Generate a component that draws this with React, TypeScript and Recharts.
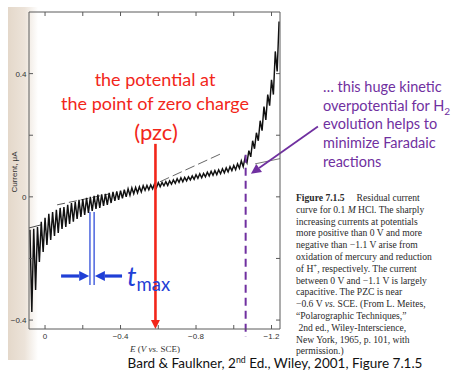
import React from 'react';
import { ComposedChart, Line, XAxis, YAxis, ReferenceLine } from 'recharts';

// residual current polarogram, 0.1 M HCl (µA vs V)
const potentials = [
  0.08, 0.07, 0.06, 0.05, 0.04, 0.03, 0.02, 0.01, 0, -0.01,
  -0.02, -0.03, -0.04, -0.05, -0.06, -0.07, -0.08, -0.09, -0.1, -0.11,
  -0.12, -0.13, -0.14, -0.15, -0.16, -0.17, -0.18, -0.19, -0.2, -0.21,
  -0.22, -0.23, -0.24, -0.25, -0.26, -0.27, -0.28, -0.29, -0.3, -0.31,
  -0.32, -0.33, -0.34, -0.35, -0.36, -0.37, -0.38, -0.39, -0.4, -0.41,
  -0.42, -0.43, -0.44, -0.45, -0.46, -0.47, -0.48, -0.49, -0.5, -0.51,
  -0.52, -0.53, -0.54, -0.55, -0.56, -0.57, -0.58, -0.59, -0.6, -0.61,
  -0.62, -0.63, -0.64, -0.65, -0.66, -0.67, -0.68, -0.69, -0.7, -0.71,
  -0.72, -0.73, -0.74, -0.75, -0.76, -0.77, -0.78, -0.79, -0.8, -0.81,
  -0.82, -0.83, -0.84, -0.85, -0.86, -0.87, -0.88, -0.89, -0.9, -0.91,
  -0.92, -0.93, -0.94, -0.95, -0.96, -0.97, -0.98, -0.99, -1.0, -1.01,
  -1.02, -1.03, -1.04, -1.05, -1.06, -1.07, -1.08, -1.09, -1.1, -1.11,
  -1.12, -1.13, -1.14, -1.15, -1.16, -1.17, -1.18, -1.19, -1.2, -1.21,
  -1.22, -1.23, -1.24,
];
const currents = [
  -0.107, -0.374, -0.104, -0.302, -0.098, -0.211, -0.081, -0.179, -0.068, -0.156,
  -0.055, -0.14, -0.049, -0.127, -0.042, -0.117, -0.036, -0.104, -0.033, -0.098,
  -0.026, -0.088, -0.02, -0.081, -0.016, -0.072, -0.01, -0.065, -0.007, -0.059,
  -0.003, -0.052, 0.0, -0.046, 0.003, -0.039, 0.007, -0.036, 0.008, -0.029,
  0.01, -0.026, 0.013, -0.02, 0.016, -0.013, 0.018, -0.01, 0.02, -0.005,
  0.023, 0.0, 0.026, 0.005, 0.029, 0.01, 0.031, 0.013, 0.033, 0.016,
  0.036, 0.021, 0.037, 0.023, 0.039, 0.026, 0.042, 0.029, 0.046, 0.033,
  0.047, 0.036, 0.049, 0.037, 0.052, 0.041, 0.055, 0.044, 0.059, 0.047,
  0.062, 0.049, 0.063, 0.052, 0.065, 0.055, 0.068, 0.057, 0.072, 0.06,
  0.075, 0.062, 0.076, 0.065, 0.08, 0.068, 0.083, 0.07, 0.085, 0.072,
  0.088, 0.075, 0.091, 0.078, 0.094, 0.081, 0.098, 0.085, 0.102, 0.088,
  0.107, 0.093, 0.117, 0.098, 0.127, 0.111, 0.15, 0.13, 0.182, 0.156,
  0.208, 0.182, 0.247, 0.215, 0.293, 0.25, 0.332, 0.296, 0.38, 0.332,
  0.472, 0.407, 0.569,
];

// extrapolated charging-current lines drawn on the original figure
const tangentLeftE = [-0.064, -0.344];
const tangentLeftI = [-0.026, 0.01];
const tangentPzcE = [-0.609, -0.943];
const tangentPzcI = [0.049, 0.143];
const stubLeftE = [0.085, 0.021];
const stubLeftI = [-0.101, -0.091];
const stubRightE = [-1.113, -1.245];
const stubRightI = [0.107, 0.124];

const xTicks = [0, -0.2, -0.4, -0.6, -0.8, -1.0, -1.2];
const xLabels = [0, -0.4, -0.8, -1.2];
const yTicks = [-0.4, -0.2, 0, 0.2, 0.4];
const yLabels = [-0.4, 0, 0.4];

const pzc = -0.585;
const h2Limit = -1.063;

const toRows = (es: number[], is: number[]) => es.map((e, k) => ({ e, i: is[k] }));
const curve = toRows(potentials, currents);

const AXIS = '#5a5a5a';
const RED = '#f2261a';
const PURPLE = '#7030a0';
const BLUE = '#1f3fd6';

const fmt = (v: number) => (v === 0 ? '0' : v < 0 ? '\u2212' + Math.abs(v).toFixed(1) : v.toFixed(1));
const tickFont = { fontFamily: '"Liberation Sans", Arial, sans-serif', fontSize: 8, fill: '#333' };

// axes are 1px thick so recharts still draws them; ticks point inwards like the scan
function BottomTick({ x, y, payload }: any) {
  return (
    <g>
      <line x1={x} y1={y} x2={x} y2={y - 4} stroke={AXIS} />
      {xLabels.includes(payload.value) && (
        <text x={x} y={y + 10} textAnchor="middle" {...tickFont}>{fmt(payload.value)}</text>
      )}
    </g>
  );
}
function TopTick({ x, y }: any) {
  return <line x1={x} y1={y} x2={x} y2={y + 4} stroke={AXIS} />;
}
function LeftTick({ x, y, payload }: any) {
  return (
    <g>
      <line x1={x} y1={y} x2={x + 4} y2={y} stroke={AXIS} />
      {yLabels.includes(payload.value) && (
        <text x={x - 2.5} y={y + 3} textAnchor="end" {...tickFont}>{fmt(payload.value)}</text>
      )}
    </g>
  );
}
function RightTick({ x, y }: any) {
  return <line x1={x} y1={y} x2={x - 4} y2={y} stroke={AXIS} />;
}

function arrow(color: string, width: number, head: number, dash?: string) {
  return (p: any) => {
    const { x1, y1, x2, y2 } = p;
    const len = Math.hypot(x2 - x1, y2 - y1) || 1;
    const ux = (x2 - x1) / len;
    const uy = (y2 - y1) / len;
    const bx = x2 - ux * head;
    const by = y2 - uy * head;
    const px = -uy * head * 0.5;
    const py = ux * head * 0.5;
    return (
      <g>
        <line x1={x1} y1={y1} x2={bx} y2={by} stroke={color} strokeWidth={width} strokeDasharray={dash} />
        <polygon points={`${x2},${y2} ${bx + px},${by + py} ${bx - px},${by - py}`} fill={color} />
      </g>
    );
  };
}

const abs = (left: number, top: number, extra: React.CSSProperties = {}): React.CSSProperties => ({
  position: 'absolute', left, top, whiteSpace: 'nowrap', ...extra,
});

const calibri = 'Lato, "Open Sans", sans-serif';
const serif = '"Liberation Serif", "Times New Roman", serif';

const caption = [
  <><b>Figure 7.1.5</b>{'\u2003 Residual current'}</>,
  <>curve for 0.1 <i>M</i> HCl. The sharply</>,
  <>increasing currents at potentials</>,
  <>more positive than 0 V and more</>,
  <>negative than {'\u2212'}1.1 V arise from</>,
  <>oxidation of mercury and reduction</>,
  <>of H<sup style={{ fontSize: '70%', lineHeight: 0 }}>+</sup>, respectively. The current</>,
  <>between 0 V and {'\u2212'}1.1 V is largely</>,
  <>capacitive. The PZC is near</>,
  <>{'\u2212'}0.6 V <i>vs.</i> SCE. (From L. Meites,</>,
  <>{'\u201c'}Polarographic Techniques,{'\u201d'}</>,
  <>{'\u00a0'}2nd ed., Wiley-Interscience,</>,
  <>New York, 1965, p. 101, with</>,
  <>permission.)</>,
];

export default function App() {
  const seg = (e1: number, i1: number, e2: number, i2: number) => [
    { x: e1, y: i1 },
    { x: e2, y: i2 },
  ];
  return (
    <div style={{ position: 'absolute', left: 0, top: 0, width: 453, height: 372, background: '#fff', overflow: 'hidden' }}>
      {/* page gutter of the scanned book */}
      <div style={abs(8, 7, { width: 30, height: 353, background: 'linear-gradient(to right, #e4d8ca 0%, #ece3d9 55%, rgba(255,255,255,0) 100%)' })} />

      <ComposedChart width={453} height={372} margin={{ top: 11, right: 172, bottom: 42, left: 28 }} style={{ position: 'absolute', left: 0, top: 0 }}>
        <XAxis xAxisId="b" type="number" dataKey="e" domain={[-1.245, 0.085]} reversed allowDataOverflow
          ticks={xTicks} interval={0} height={1} tickSize={0} tickMargin={0} tickLine={false}
          axisLine={{ stroke: AXIS }} tick={BottomTick} />
        <XAxis xAxisId="t" orientation="top" type="number" dataKey="e" domain={[-1.245, 0.085]} reversed allowDataOverflow
          ticks={xTicks} interval={0} height={1} tickSize={0} tickMargin={0} tickLine={false}
          axisLine={{ stroke: AXIS }} tick={TopTick} />
        <YAxis yAxisId="l" type="number" domain={[-0.429, 0.6]} allowDataOverflow
          ticks={yTicks} interval={0} width={1} tickSize={0} tickMargin={0} tickLine={false}
          axisLine={{ stroke: AXIS }} tick={LeftTick} />
        <YAxis yAxisId="r" orientation="right" type="number" domain={[-0.429, 0.6]} allowDataOverflow
          ticks={yTicks} interval={0} width={1} tickSize={0} tickMargin={0} tickLine={false}
          axisLine={{ stroke: AXIS }} tick={RightTick} />

        <Line xAxisId="b" yAxisId="l" data={toRows(stubLeftE, stubLeftI)} dataKey="i" stroke="#333" strokeWidth={0.9} dot={false} isAnimationActive={false} />
        <Line xAxisId="b" yAxisId="l" data={toRows(tangentLeftE, tangentLeftI)} dataKey="i" stroke="#444" strokeWidth={0.9} strokeDasharray="8 4" dot={false} isAnimationActive={false} />
        <Line xAxisId="b" yAxisId="l" data={toRows(tangentPzcE, tangentPzcI)} dataKey="i" stroke="#555" strokeWidth={0.9} strokeDasharray="10 4" dot={false} isAnimationActive={false} />
        <Line xAxisId="b" yAxisId="l" data={toRows(stubRightE, stubRightI)} dataKey="i" stroke="#666" strokeWidth={0.9} dot={false} isAnimationActive={false} />
        <Line xAxisId="b" yAxisId="l" data={curve} dataKey="i" type="linear" stroke="#111" strokeWidth={1.45} dot={false} isAnimationActive={false} />

        {/* annotations */}
        <ReferenceLine xAxisId="b" yAxisId="l" ifOverflow="visible" segment={seg(pzc, 0.172, pzc, -0.429)} shape={arrow(RED, 2.6, 9)} />
        <ReferenceLine xAxisId="b" yAxisId="l" ifOverflow="visible" segment={seg(h2Limit, 0.137, h2Limit, -0.455)} stroke={PURPLE} strokeWidth={2} strokeDasharray="8 5" />
        <ReferenceLine xAxisId="b" yAxisId="l" ifOverflow="visible" segment={seg(-1.446, 0.228, -1.091, 0.075)} shape={arrow(PURPLE, 1.8, 10)} />
        <ReferenceLine xAxisId="b" yAxisId="l" ifOverflow="visible" segment={seg(-0.238, -0.049, -0.238, -0.286)} stroke={BLUE} strokeWidth={1.2} />
        <ReferenceLine xAxisId="b" yAxisId="l" ifOverflow="visible" segment={seg(-0.26, -0.049, -0.26, -0.286)} stroke={BLUE} strokeWidth={1.2} />
        <ReferenceLine xAxisId="b" yAxisId="l" ifOverflow="visible" segment={seg(-0.085, -0.257, -0.234, -0.257)} shape={arrow(BLUE, 3.2, 10)} />
        <ReferenceLine xAxisId="b" yAxisId="l" ifOverflow="visible" segment={seg(-0.408, -0.257, -0.264, -0.257)} shape={arrow(BLUE, 3.2, 10)} />
      </ComposedChart>

      {/* axis titles */}
      <div style={abs(14, 172, { transform: 'translate(-50%, -50%) rotate(-90deg)', fontFamily: '"Liberation Sans", Arial, sans-serif', fontSize: 8, color: '#333' })}>Current, μA</div>
      <div style={abs(155, 349, { transform: 'translate(-50%, -50%)', fontFamily: serif, fontSize: 9, color: '#333' })}>
        <i>E</i> (<i>V vs.</i> SCE)
      </div>

      {/* red annotation */}
      <div style={abs(155, 79, { transform: 'translate(-50%, -50%)', fontFamily: calibri, fontSize: 18, color: RED, lineHeight: '20px' })}>the potential at</div>
      <div style={abs(155, 103, { transform: 'translate(-50%, -50%)', fontFamily: calibri, fontSize: 18, color: RED, lineHeight: '20px' })}>the point of zero charge</div>
      <div style={abs(156, 132, { transform: 'translate(-50%, -50%)', fontFamily: calibri, fontSize: 22, color: RED, lineHeight: '24px' })}>(pzc)</div>

      {/* purple annotation */}
      <div style={abs(323, 78, { fontFamily: calibri, fontSize: 14.5, color: PURPLE, lineHeight: '18.7px' })}>
        … this huge kinetic<br />
        overpotential for H<sub style={{ fontSize: '70%', lineHeight: 0 }}>2</sub><br />
        evolution helps to<br />
        minimize Faradaic<br />
        reactions
      </div>

      {/* t_max label */}
      <div style={abs(127, 262, { fontFamily: calibri, fontSize: 27, color: BLUE, lineHeight: '27px' })}>
        <i>t</i><span style={{ fontSize: 18.5, position: 'relative', top: 5 }}>max</span>
      </div>

      {/* book caption */}
      <div style={abs(296, 192, { fontFamily: serif, fontSize: 9.6, color: '#2a2a2a', lineHeight: '11.8px' })}>
        {caption.map((c, k) => <div key={k}>{c}</div>)}
      </div>

      <div style={abs(275, 363, { transform: 'translate(-50%, -50%)', fontFamily: calibri, fontSize: 13.5, color: '#111' })}>
        Bard &amp; Faulkner, 2<sup style={{ fontSize: '65%', lineHeight: 0 }}>nd</sup> Ed., Wiley, 2001, Figure 7.1.5
      </div>
    </div>
  );
}
